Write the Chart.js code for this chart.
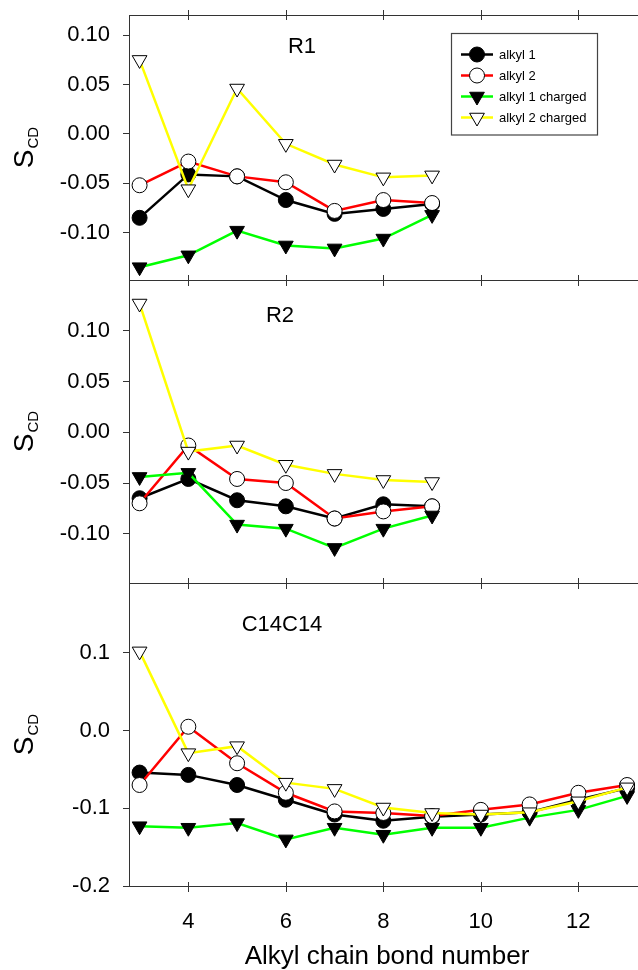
<!DOCTYPE html>
<html>
<head>
<meta charset="utf-8">
<title>S_CD order parameters</title>
<script src="https://cdn.jsdelivr.net/npm/chart.js@4/dist/chart.umd.min.js"></script>
<style>
  html, body { margin: 0; padding: 0; background: #fff; overflow: hidden; }
  #wrap { position: relative; width: 660px; height: 970px; }
  #wrap canvas { position: absolute; left: 0; top: 0; }
</style>
</head>
<body>
<div id="wrap">
  <canvas id="c1" width="660" height="970"></canvas>
  <canvas id="c2" width="660" height="970"></canvas>
  <canvas id="c3" width="660" height="970"></canvas>
</div>
<script>
// bond numbers
const bondShort = [3, 4, 5, 6, 7, 8, 9];
const bondLong = [3, 4, 5, 6, 7, 8, 9, 10, 11, 12, 13];
const bondTicks = [4, 6, 8, 10, 12];

// R1
const r1Alkyl1 = [-0.085, -0.041, -0.043, -0.067, -0.081, -0.076, -0.071];
const r1Alkyl2 = [-0.052, -0.028, -0.043, -0.049, -0.078, -0.067, -0.070];
const r1Alkyl1Ch = [-0.135, -0.123, -0.098, -0.113, -0.116, -0.106, -0.082];
const r1Alkyl2Ch = [0.075, -0.056, 0.046, -0.010, -0.031, -0.044, -0.042];

// R2
const r2Alkyl1 = [-0.065, -0.046, -0.067, -0.073, -0.085, -0.071, -0.073];
const r2Alkyl2 = [-0.070, -0.013, -0.046, -0.050, -0.085, -0.078, -0.073];
const r2Alkyl1Ch = [-0.044, -0.040, -0.091, -0.095, -0.114, -0.095, -0.082];
const r2Alkyl2Ch = [0.127, -0.019, -0.013, -0.032, -0.041, -0.047, -0.049];

// C14C14
const cAlkyl1 = [-0.054, -0.057, -0.070, -0.089, -0.108, -0.116, -0.111, -0.108, -0.105, -0.089, -0.074];
const cAlkyl2 = [-0.070, 0.005, -0.042, -0.080, -0.104, -0.106, -0.110, -0.102, -0.095, -0.080, -0.070];
const cAlkyl1Ch = [-0.123, -0.125, -0.119, -0.140, -0.125, -0.134, -0.125, -0.125, -0.112, -0.102, -0.084];
const cAlkyl2Ch = [0.102, -0.029, -0.020, -0.067, -0.075, -0.099, -0.106, -0.108, -0.105, -0.091, -0.073];

const seriesNames = ['alkyl 1', 'alkyl 2', 'alkyl 1 charged', 'alkyl 2 charged'];
const r1Ticks = [-0.10, -0.05, 0.00, 0.05, 0.10];
const r2Ticks = [-0.10, -0.05, 0.00, 0.05, 0.10];
const cTicks = [-0.2, -0.1, 0.0, 0.1];

const FONT = "'Liberation Sans', Arial, Helvetica, sans-serif";
Chart.defaults.font.family = FONT;
Chart.defaults.color = '#000';

const styles = [
  { color: '#000000', pointStyle: 'circle', fill: '#000000', radius: 7.5, rotation: 0 },
  { color: '#ff0000', pointStyle: 'circle', fill: '#ffffff', radius: 7.5, rotation: 0 },
  { color: '#00ff00', pointStyle: 'triangle', fill: '#000000', radius: 8.5, rotation: 180 },
  { color: '#ffff00', pointStyle: 'triangle', fill: '#ffffff', radius: 8.5, rotation: 180 }
];

function makeSets(xs, lists) {
  return lists.map((vals, i) => {
    const s = styles[i];
    return {
      label: seriesNames[i],
      data: vals.map((v, k) => ({ x: xs[k], y: v })),
      borderColor: s.color,
      borderWidth: 2.5,
      pointStyle: s.pointStyle,
      pointRadius: s.radius,
      pointRotation: s.rotation,
      pointBackgroundColor: s.fill,
      pointBorderColor: '#000',
      pointBorderWidth: 1,
      tension: 0,
      order: 4 - i,   // later series drawn on top
      clip: false
    };
  });
}

// frame, x tick marks, panel name and the S_CD title
const panelDeco = {
  id: 'panelDeco',
  beforeDatasetsDraw(chart, args, opts) {
    const { ctx, chartArea: a } = chart;
    const xs = chart.scales.x;
    ctx.save();
    ctx.strokeStyle = '#333';
    ctx.lineWidth = 1;
    ctx.strokeRect(a.left + 0.5, a.top + 0.5, a.right - a.left, a.bottom - a.top);
    ctx.beginPath();
    bondTicks.forEach(v => {
      const px = Math.round(xs.getPixelForValue(v)) + 0.5;
      ctx.moveTo(px, a.top - 5); ctx.lineTo(px, a.top + 5);
      ctx.moveTo(px, a.bottom - 4); ctx.lineTo(px, a.bottom + 6);
    });
    ctx.stroke();

    // panel name
    ctx.fillStyle = '#000';
    ctx.font = '22px ' + FONT;
    ctx.textAlign = 'center';
    ctx.textBaseline = 'middle';
    ctx.fillText(opts.name, opts.nameX, a.top + opts.nameDy);

    // y title S_CD
    const cy = (a.top + a.bottom) / 2;
    ctx.translate(33, cy);
    ctx.rotate(-Math.PI / 2);
    ctx.textAlign = 'left';
    ctx.textBaseline = 'alphabetic';
    ctx.font = '28px ' + FONT;
    const ws = ctx.measureText('S').width;
    ctx.font = '15px ' + FONT;
    const wc = ctx.measureText('CD').width;
    const start = -(ws + wc + 1) / 2;
    ctx.font = '28px ' + FONT;
    ctx.fillText('S', start, 0);
    ctx.font = '15px ' + FONT;
    ctx.fillText('CD', start + ws + 1, 5);
    ctx.restore();
  }
};

const legendBox = {
  id: 'legendBox',
  afterDraw(chart) {
    const { ctx } = chart;
    ctx.save();
    ctx.strokeStyle = '#444';
    ctx.lineWidth = 1.2;
    ctx.strokeRect(451.5, 33.5, 146, 101.5);
    chart.data.datasets.forEach((ds, i) => {
      const y = 54.5 + i * 21;
      ctx.strokeStyle = ds.borderColor;
      ctx.lineWidth = 2.5;
      ctx.beginPath();
      ctx.moveTo(461, y); ctx.lineTo(493, y);
      ctx.stroke();
      ctx.fillStyle = ds.pointBackgroundColor;
      ctx.strokeStyle = '#000';
      ctx.lineWidth = 1;
      Chart.helpers.drawPoint(ctx, {
        pointStyle: ds.pointStyle, radius: ds.pointRadius,
        rotation: ds.pointRotation, borderWidth: 1
      }, 477, y);
      ctx.fillStyle = '#000';
      ctx.font = '13px ' + FONT;
      ctx.textAlign = 'left';
      ctx.textBaseline = 'middle';
      ctx.fillText(ds.label, 499, y + 1);
    });
    ctx.restore();
  }
};

function makePanel(id, opt) {
  const xScale = {
    type: 'linear',
    min: 2.783,
    max: 13.367,
    display: opt.showX,
    afterBuildTicks: s => { s.ticks = bondTicks.map(v => ({ value: v })); },
    grid: { display: false },
    border: { display: false },
    ticks: { font: { size: 22 }, padding: 15, maxRotation: 0, callback: v => String(v) },
    title: {
      display: opt.showX,
      text: 'Alkyl chain bond number',
      font: { size: 26, lineHeight: 1 },
      padding: { top: 0, bottom: 0 }
    },
    afterFit: s => {
      if (opt.showX) s.height = 84;
      s.paddingLeft = 0; s.paddingRight = 0;
    }
  };
  const yScale = {
    type: 'linear',
    min: opt.yMin,
    max: opt.yMax,
    afterBuildTicks: s => { s.ticks = opt.yTicks.map(v => ({ value: v })); },
    grid: { display: true, drawOnChartArea: false, drawTicks: true, tickLength: 6, color: '#333' },
    border: { display: false },
    ticks: { font: { size: 22 }, padding: 13, callback: v => v.toFixed(opt.dec) },
    afterFit: s => { s.width = 129; s.paddingTop = 0; s.paddingBottom = 0; }
  };
  return new Chart(document.getElementById(id), {
    type: 'line',
    data: { datasets: makeSets(opt.xs, opt.series) },
    options: {
      responsive: false,
      animation: false,
      layout: { padding: { left: 0, right: 15, top: opt.top, bottom: opt.bottom } },
      plugins: {
        legend: { display: false },
        tooltip: { enabled: false },
        panelDeco: { name: opt.name, nameX: opt.nameX, nameDy: opt.nameDy }
      },
      scales: { x: xScale, y: yScale }
    },
    plugins: opt.legend ? [panelDeco, legendBox] : [panelDeco]
  });
}

makePanel('c1', {
  xs: bondShort, series: [r1Alkyl1, r1Alkyl2, r1Alkyl1Ch, r1Alkyl2Ch],
  yMin: -0.148, yMax: 0.1205, yTicks: r1Ticks, dec: 2,
  top: 15, bottom: 690, showX: false, legend: true,
  name: 'R1', nameX: 302, nameDy: 32
});
makePanel('c2', {
  xs: bondShort, series: [r2Alkyl1, r2Alkyl2, r2Alkyl1Ch, r2Alkyl2Ch],
  yMin: -0.1486, yMax: 0.1502, yTicks: r2Ticks, dec: 2,
  top: 280, bottom: 387, showX: false, legend: false,
  name: 'R2', nameX: 280, nameDy: 36
});
makePanel('c3', {
  xs: bondLong, series: [cAlkyl1, cAlkyl2, cAlkyl1Ch, cAlkyl2Ch],
  yMin: -0.2, yMax: 0.19, yTicks: cTicks, dec: 1,
  top: 583, bottom: 0, showX: true, legend: false,
  name: 'C14C14', nameX: 282, nameDy: 42
});
</script>
</body>
</html>
